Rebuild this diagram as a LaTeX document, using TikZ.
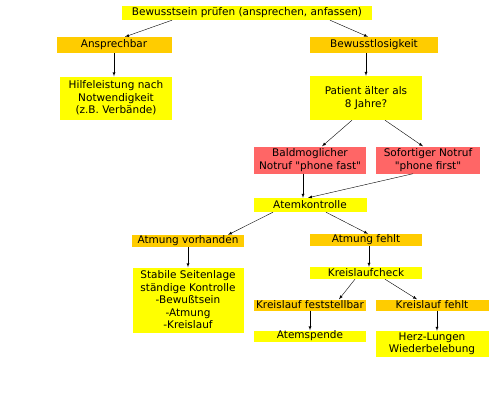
\documentclass[tikz,border=0pt]{standalone}
\usepackage{fontspec}
\setmainfont{DejaVu Sans}[Ligatures=TeXOff]
\usetikzlibrary{
  arrows,
  positioning
}
\definecolor{boxyellow}{RGB}{255,255,0}
\definecolor{boxorange}{RGB}{255,204,0}
\definecolor{boxred}{RGB}{255,102,102}
\tikzset{>=latex}
\tikzset{font=\fontsize{10.5}{12.5}\selectfont}
\tikzset{box/.style={fill=boxyellow, align=center, inner sep=0pt, minimum width=112pt, minimum height=12pt},
  state/.style={box, fill=boxorange},
  alarm/.style={box, fill=boxred},
  flow/.style={->, thin}}

\begin{document}
\begin{tikzpicture}[x=1pt, y=-1pt]
  \useasboundingbox (0, 0) rectangle (500, 400); %
  % first check
  \node[box, minimum width=250pt, minimum height=14pt] (pruefen) at (247, 13) {Bewusstsein prüfen (ansprechen, anfassen)}; %
  \node[state, minimum width=115pt, minimum height=16pt] (ansprechbar) at (114, 45) {Ansprechbar}; %
  \node[state, minimum width=128pt, minimum height=16pt] (bewusstlos) at (374, 45) {Bewusstlosigkeit}; %
  \node[box, minimum height=43pt] (hilfe) at (116, 98) {Hilfeleistung nach\\Notwendigkeit\\(z.B. Verbände)}; %
  \node[box, minimum height=44pt] (patient) at (366, 98) {Patient älter als\\8 Jahre?}; %
  % emergency call
  \node[alarm, minimum height=27pt] (bald) at (310, 160) {Baldmoglicher\\Notruf "phone fast"}; %
  \node[alarm, minimum width=104pt, minimum height=27pt] (sofort) at (428, 160) {Sofortiger Notruf\\"phone first"}; %
  % breathing
  \node[box, minimum width=113pt, minimum height=14pt] (atemk) at (310, 205) {Atemkontrolle}; %
  \node[state] (vorhanden) at (188, 241) {Atmung vorhanden}; %
  \node[state] (atmfehlt) at (366, 240) {Atmung fehlt}; %
  \node[box, minimum width=111pt, minimum height=65pt] (stabil) at (188, 300) {Stabile Seitenlage\\ständige Kontrolle\\-Bewußtsein\\-Atmung\\-Kreislauf}; %
  % circulation
  \node[box] (kcheck) at (366, 273) {Kreislaufcheck}; %
  \node[state, minimum height=11pt] (kfest) at (310, 305) {Kreislauf feststellbar}; %
  \node[state, minimum width=113pt, minimum height=11pt] (kfehlt) at (432, 305) {Kreislauf fehlt}; %
  \node[box, minimum height=11pt] (atemspende) at (310, 336) {Atemspende}; %
  \node[box, minimum width=113pt, minimum height=26pt] (herz) at (432, 344) {Herz-Lungen\\Wiederbelebung}; %
  % connectors
  \draw[flow] ([xshift=-75pt]pruefen.south) -- ([xshift=11pt]ansprechbar.north); %
  \draw[flow] ([xshift=83pt]pruefen.south) -- ([xshift=-6pt]bewusstlos.north); %
  \draw[flow] (ansprechbar.south) -- (hilfe.north -| ansprechbar.south); %
  \draw[flow] (bewusstlos.south -| patient.north) -- (patient.north); %
  \draw[flow] ([xshift=-14pt]patient.south) -- ([xshift=12pt]bald.north); %
  \draw[flow] ([xshift=19pt]patient.south) -- ([xshift=-5pt]sofort.north); %
  \draw[flow] ([xshift=-7pt]bald.south) -- ([xshift=-7pt]atemk.north); %
  \draw[flow] ([xshift=-15pt]sofort.south) -- ([xshift=-2pt]atemk.north); %
  \draw[flow] ([xshift=-37pt]atemk.south) -- ([xshift=40pt]vorhanden.north); %
  \draw[flow] ([xshift=16pt]atemk.south) -- ([xshift=2pt]atmfehlt.north); %
  \draw[flow] ([xshift=3pt]atmfehlt.south) -- ([xshift=3pt]kcheck.north); %
  \draw[flow] (vorhanden.south) -- (stabil.north); %
  \draw[flow] ([xshift=-11pt]kcheck.south) -- ([xshift=29pt]kfest.north); %
  \draw[flow] ([xshift=19pt]kcheck.south) -- ([xshift=-15pt]kfehlt.north); %
  \draw[flow] (kfest.south) -- (atemspende.north); %
  \draw[flow] ([xshift=5pt]kfehlt.south) -- ([xshift=5pt]herz.north); %
\end{tikzpicture}
\end{document}
